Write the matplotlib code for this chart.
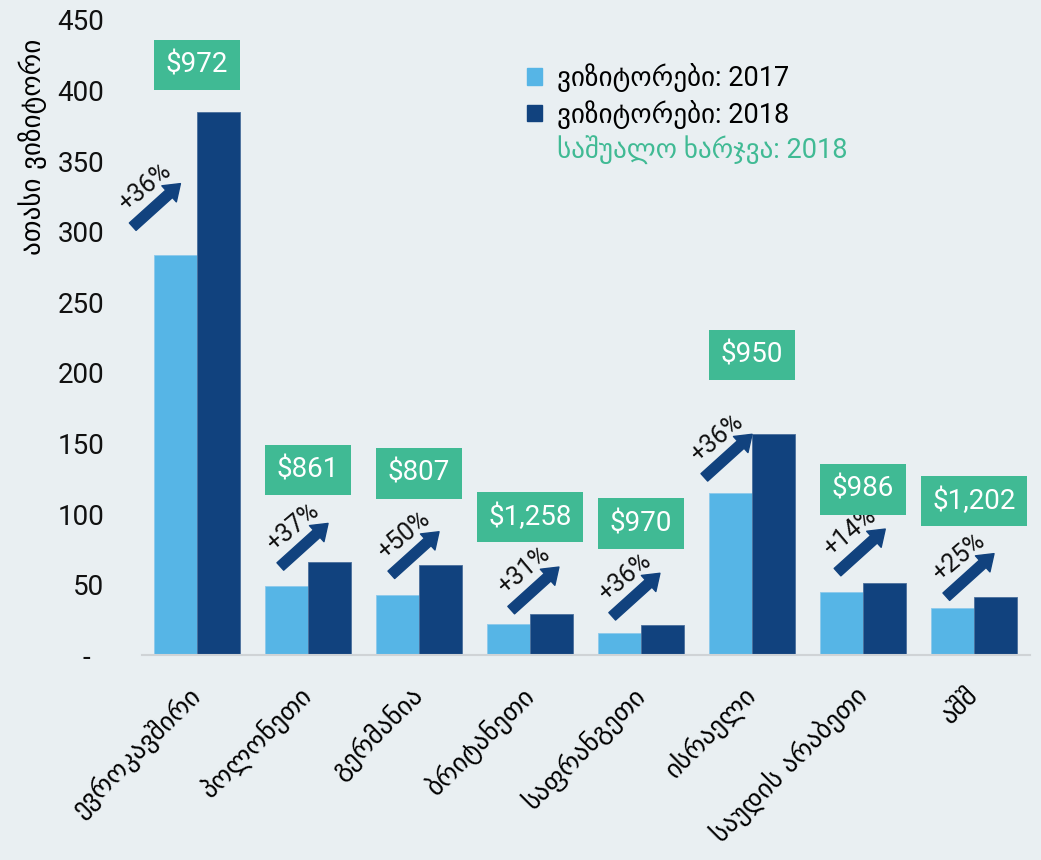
"""Georgia inbound visitors by market, 2017 vs 2018, with 2018 average spend."""
import numpy as np
import matplotlib

matplotlib.use("Agg")
import matplotlib.pyplot as plt
from matplotlib.patches import Patch

plt.rcParams["font.family"] = ["Roboto", "DejaVu Sans"]

# data
markets = ["ევროკავშირი", "პოლონეთი", "გერმანია", "ბრიტანეთი",
           "საფრანგეთი", "ისრაელი", "საუდის არაბეთი", "აშშ"]
visitors_2017 = [283.5, 48.9, 43.0, 22.0, 15.6, 115.0, 44.9, 33.5]
visitors_2018 = [385.0, 66.1, 63.8, 29.0, 21.3, 156.6, 51.5, 41.3]
growth = ["+36%", "+37%", "+50%", "+31%", "+36%", "+36%", "+14%", "+25%"]
spend_2018 = ["$972", "$861", "$807", "$1,258", "$970", "$950", "$986", "$1,202"]
yticks = [0, 50, 100, 150, 200, 250, 300, 350, 400, 450]
ytick_labels = ["-  "] + [str(t) for t in yticks[1:]]

# layout tweaks (value units above the 2018 bar / arrow anchors)
box_gap = [33, 65, 65, 69, 72, 56, 66, 68]
arrow_dx = [-0.58, -0.25, -0.25, -0.17, -0.26, -0.43, -0.23, -0.25]
arrow_dy = [20, 14, 14, 10, 12, 11, 14, 8]

BG = "#e9eff2"
LIGHT = "#56b5e6"
DARK = "#11427e"
GREEN = "#40ba94"

fig = plt.figure(figsize=(10.41, 8.6), dpi=100, facecolor=BG)
ax = fig.add_axes([0.136, 0.238, 0.853, 0.739], facecolor=BG)

x = np.arange(len(markets))
w = 0.39
ax.bar(x - w / 2, visitors_2017, w, color=LIGHT, edgecolor="#8cc9ec", linewidth=0.6)
ax.bar(x + w / 2, visitors_2018, w, color=DARK, edgecolor="#4a6f9c", linewidth=0.6)

# arrow span in data units (~47px wide, ~43px tall)
adx, ady = 0.43, 30.5
for i in range(len(markets)):
    tx = i + arrow_dx[i]
    ty = visitors_2017[i] + arrow_dy[i]
    ax.annotate("", xy=(tx + adx, ty + ady), xytext=(tx, ty),
                arrowprops=dict(arrowstyle="simple,head_length=0.55,head_width=0.78,tail_width=0.36",
                                color=DARK, shrinkA=0, shrinkB=0, mutation_scale=20))
    ax.text(tx + 0.11, ty + 28, growth[i], rotation=40, ha="center", va="center",
            fontsize=18, color="#111111")
    ax.text(i, visitors_2018[i] + box_gap[i], spend_2018[i], ha="center", va="center",
            fontsize=20, color="white",
            bbox=dict(boxstyle="square,pad=0.42", fc=GREEN, ec="none"))

ax.set_xlim(-0.5, 7.5)
ax.set_ylim(0, 450)
ax.set_yticks(yticks)
ax.set_yticklabels(ytick_labels)
ax.set_xticks(x)
ax.set_xticklabels(markets, rotation=45, ha="right", va="center", rotation_mode="anchor",
                   fontsize=19, family=["DejaVu Sans"])
ax.tick_params(axis="x", length=0, pad=26)
ax.tick_params(axis="y", length=0, pad=27, labelsize=20, labelcolor="#111111")
for s in ["top", "right", "left"]:
    ax.spines[s].set_visible(False)
ax.spines["bottom"].set_color("#cfd3d6")
ax.spines["bottom"].set_linewidth(1.5)

ax.set_ylabel("ათასი ვიზიტორი", fontsize=19.5, family=["DejaVu Sans"])
ax.yaxis.set_label_coords(-0.106, 0.8)

handles = [Patch(color=LIGHT), Patch(color=DARK), Patch(color="none", alpha=0)]
labels = ["ვიზიტორები: 2017", "ვიზიტორები: 2018", "საშუალო ხარჯვა: 2018"]
leg = ax.legend(handles, labels, loc="upper left", bbox_to_anchor=(0.422, 0.949),
                frameon=False, fontsize=19.5, handlelength=0.55, handleheight=0.55,
                handletextpad=0.55, labelspacing=0.28, borderaxespad=0)
leg.get_texts()[2].set_color(GREEN)

fig.savefig("out.png", dpi=100, facecolor=BG)
